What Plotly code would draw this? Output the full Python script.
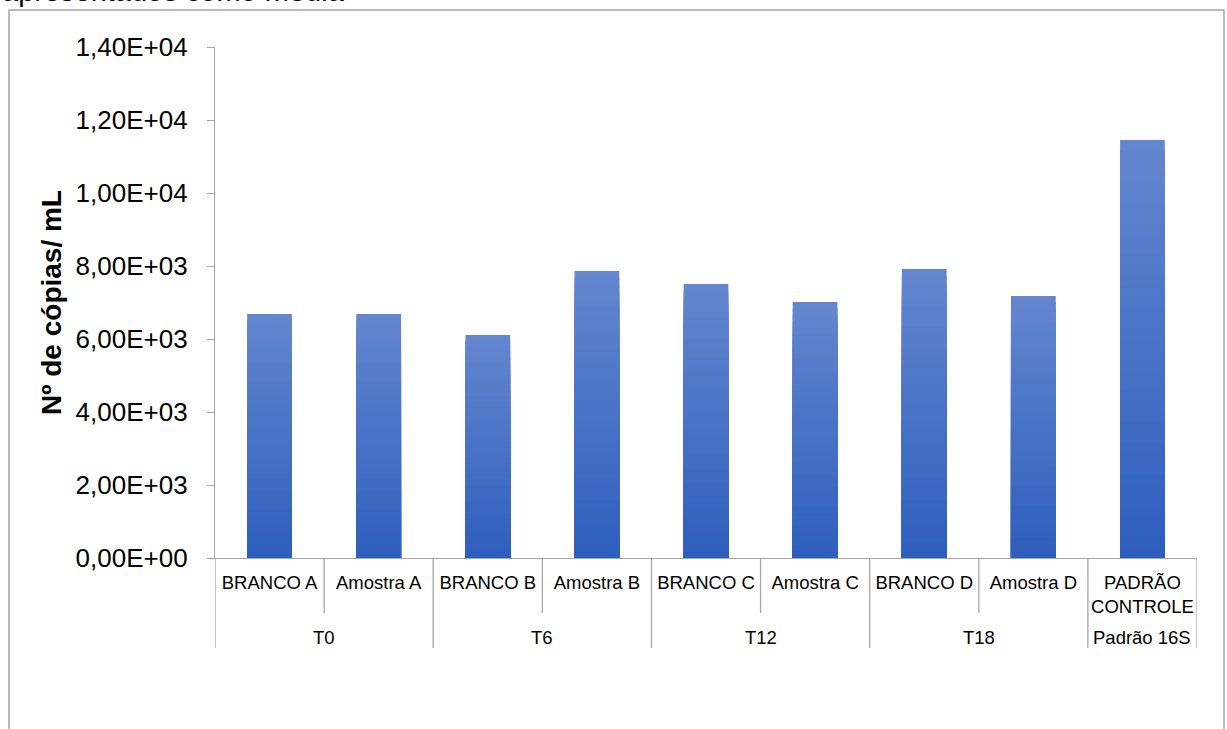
import plotly.graph_objects as go

# ---- data ----
categories = ["BRANCO A", "Amostra A", "BRANCO B", "Amostra B", "BRANCO C",
              "Amostra C", "BRANCO D", "Amostra D", "PADRÃO<br>CONTROLE"]
groups = ["T0", "T0", "T6", "T6", "T12", "T12", "T18", "T18", "Padrão 16S"]
values = [6685, 6685, 6110, 7863, 7507, 7014, 7918, 7178, 11450]
tick_vals = [0, 2000, 4000, 6000, 8000, 10000, 12000, 14000]
tick_text = ["0,00E+00", "2,00E+03", "4,00E+03", "6,00E+03", "8,00E+03",
             "1,00E+04", "1,20E+04", "1,40E+04"]

FONT = "Liberation Sans, Arial, sans-serif"
GRAY = "#a6a6a6"
top_rgb = (100, 135, 206)
bot_rgb = (45, 94, 189)
N = 40

fig = go.Figure()
idx = list(range(len(categories)))
for k in range(N):
    frac = (N - k) / N
    f = (N - k - 0.5) / N
    c = tuple(round(bot_rgb[i] + (top_rgb[i] - bot_rgb[i]) * f) for i in range(3))
    fig.add_trace(go.Bar(
        x=idx, y=[v * frac for v in values],
        marker=dict(color="rgb(%d,%d,%d)" % c, line=dict(width=0)),
        width=0.41, showlegend=False, hoverinfo="skip"))

shapes = []
# separators between categories
bounds = [i - 0.5 for i in range(len(categories) + 1)]
for j, b in enumerate(bounds):
    left = groups[j - 1] if j > 0 else None
    right = groups[j] if j < len(groups) else None
    long_line = left != right
    shapes.append(dict(type="line", xref="x", yref="paper", x0=b, x1=b,
                       y0=0, y1=-0.176 if long_line else -0.1076,
                       line=dict(color=GRAY, width=1.3)))
# outer frame
shapes.append(dict(type="rect", xref="paper", yref="paper",
                   x0=-0.2098, x1=1.0275, y0=-0.4, y1=1.0724,
                   line=dict(color=GRAY, width=1.5), fillcolor="rgba(0,0,0,0)"))

annotations = []
# group labels
seen = []
for g in groups:
    if g not in seen:
        seen.append(g)
for g in seen:
    pos = [i for i, gg in enumerate(groups) if gg == g]
    annotations.append(dict(text=g, x=sum(pos) / len(pos), xref="x", y=-0.1546,
                            yref="paper", showarrow=False, yanchor="middle",
                            font=dict(size=18.5, color="black", family=FONT)))
annotations.append(dict(text="apresentados como média", xref="paper", yref="paper",
                        x=-0.2189, y=1.0724, xanchor="left", yanchor="bottom", yshift=1,
                        showarrow=False, font=dict(size=29, color="black", family=FONT)))

fig.update_layout(
    width=1227, height=729,
    margin=dict(l=215, r=30, t=47, b=171),
    paper_bgcolor="white", plot_bgcolor="white",
    barmode="overlay",
    font=dict(family=FONT, color="black"),
    shapes=shapes, annotations=annotations,
    xaxis=dict(tickmode="array", tickvals=idx, ticktext=categories,
               range=[-0.5, len(categories) - 0.5],
               showline=True, linecolor=GRAY, linewidth=1.3,
               ticks="", tickfont=dict(size=18.5, color="black", family=FONT),
               ticklabelstandoff=8, showgrid=False, zeroline=False, tickangle=0),
    yaxis=dict(range=[0, 14000], tickmode="array", tickvals=tick_vals, ticktext=tick_text,
               showline=True, linecolor=GRAY, linewidth=1.3,
               ticks="outside", ticklen=7, tickcolor=GRAY, tickwidth=1.3,
               tickfont=dict(size=26, color="black", family=FONT),
               ticklabelstandoff=14, showgrid=False, zeroline=False,
               title=dict(text="<b>Nº de cópias/ mL</b>", standoff=5,
                          font=dict(size=28, color="black", family=FONT))),
)

fig.write_html("out.html")
